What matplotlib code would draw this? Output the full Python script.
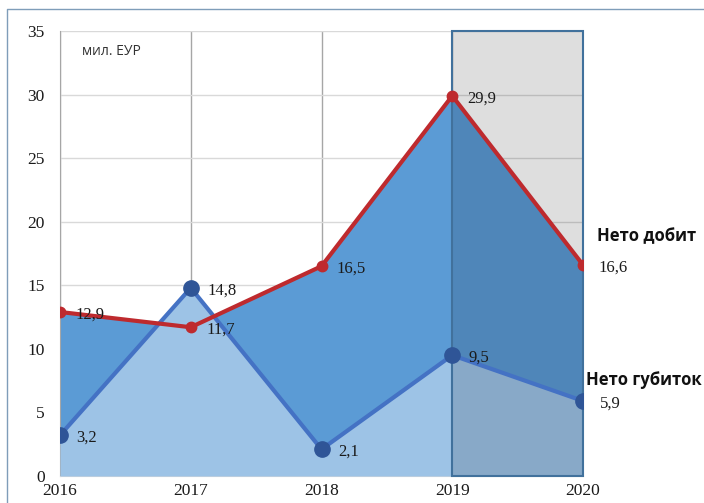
import matplotlib
matplotlib.use("Agg")
import matplotlib.pyplot as plt
from matplotlib.patches import Rectangle
from matplotlib.lines import Line2D

years = [2016, 2017, 2018, 2019, 2020]
profit = [12.9, 11.7, 16.5, 29.9, 16.6]   # Нето добит
loss = [3.2, 14.8, 2.1, 9.5, 5.9]         # Нето губиток
profit_lbl = ["12,9", "11,7", "16,5", "29,9", "16,6"]
loss_lbl = ["3,2", "14,8", "2,1", "9,5", "5,9"]
yticks = [0, 5, 10, 15, 20, 25, 30, 35]
highlight = (2019, 2020)

fig = plt.figure(figsize=(7.04, 5.03), dpi=100)
ax = fig.add_axes([60/704, 1-476/503, (583-60)/704, (476-31)/503])

serif = "Liberation Serif"

# areas
ax.fill_between(years, 0, profit, color="#5B9BD5", zorder=2, linewidth=0)
ax.fill_between(years, 0, loss, color="#9DC3E6", zorder=3, linewidth=0)

# highlight rectangle
ax.add_patch(Rectangle((highlight[0], 0), highlight[1]-highlight[0], 35,
                       facecolor=(0, 0, 0, 0.13), edgecolor="#41719C",
                       linewidth=1.5, zorder=4, clip_on=False))

# lines
ax.plot(years, loss, color="#4472C4", lw=3, zorder=5, solid_joinstyle="round")
ax.plot(years, loss, 'o', color="#2F5597", ms=11, zorder=6)
ax.plot(years, profit, color="#BE2A2E", lw=3, zorder=7, solid_joinstyle="round")
ax.plot(years, profit, 'o', color="#BE2A2E", ms=7.5, zorder=8)

for x, y, t in zip(years, profit, profit_lbl):
    ax.annotate(t, (x, y), xytext=(11, -2), textcoords="offset points",
                ha="left", va="center", fontsize=12, family=serif,
                color="#1a1a1a", zorder=9, annotation_clip=False)
for x, y, t in zip(years, loss, loss_lbl):
    ax.annotate(t, (x, y), xytext=(12, -2), textcoords="offset points",
                ha="left", va="center", fontsize=12, family=serif,
                color="#1a1a1a", zorder=9, annotation_clip=False)

ax.annotate("Нето добит", (years[-1], profit[-1]), xytext=(10, 21),
            textcoords="offset points", ha="left", va="center",
            fontsize=12, family="Open Sans", fontweight="bold",
            color="#111111", annotation_clip=False)
ax.annotate("Нето губиток", (years[-1], loss[-1]), xytext=(2, 15),
            textcoords="offset points", ha="left", va="center",
            fontsize=12, family="Open Sans", fontweight="bold",
            color="#111111", annotation_clip=False)

ax.text(0.042, 0.953, "мил. ЕУР", transform=ax.transAxes, ha="left",
        va="center", fontsize=10, family="Open Sans", color="#333333")

ax.set_xlim(years[0], years[-1])
ax.set_ylim(0, 35)
ax.set_yticks(yticks)
ax.set_xticks(years)
ax.set_xticklabels([str(y) for y in years])
ax.tick_params(length=0, labelsize=12.5, colors="#1a1a1a")
for lab in ax.get_xticklabels() + ax.get_yticklabels():
    lab.set_family(serif)
ax.tick_params(axis="y", pad=11)
ax.tick_params(axis="x", pad=5)

ax.yaxis.grid(True, color="#D9D9D9", lw=1)
ax.xaxis.grid(True, color="#A6A6A6", lw=1)
ax.set_axisbelow(True)
for s in ["top", "right"]:
    ax.spines[s].set_visible(False)
ax.spines["left"].set_color("#A6A6A6")
ax.spines["bottom"].set_color("#D9D9D9")

# figure border
fig.add_artist(Line2D([7/704, 7/704, 1], [0, 1-9/503, 1-9/503],
                      transform=fig.transFigure, color="#7F9DB9", lw=1))

fig.savefig("out.png", dpi=100)
